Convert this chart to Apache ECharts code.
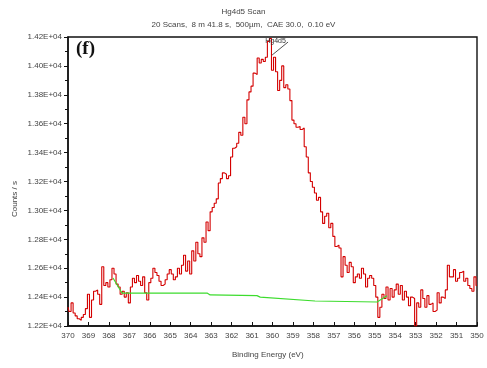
<!DOCTYPE html>
<html>
<head>
<meta charset="utf-8">
<script src="https://cdn.jsdelivr.net/npm/echarts@6/dist/echarts.min.js"></script>
<style>
  html, body { margin: 0; padding: 0; background: #fff; }
  #chart { width: 487px; height: 368px; }
</style>
</head>
<body>
<div id="chart"></div>
<script>
// Hg 4d5 region, binding energy from 370.0 eV down to 350.0 eV, 0.1 eV per channel
const energyStart = 370.0;
const energyStep = 0.1;
const counts = [
  12330, 12300, 12360, 12290, 12270, 12250, 12240, 12260, 12280, 12320,
  12420, 12260, 12380, 12440, 12450, 12420, 12350, 12610, 12480, 12500,
  12470, 12520, 12600, 12560, 12490, 12470, 12420, 12440, 12400, 12430,
  12360, 12470, 12530, 12500, 12550, 12510, 12480, 12540, 12430, 12380,
  12500, 12530, 12600, 12570, 12550, 12510, 12480, 12490, 12520, 12560,
  12590, 12560, 12520, 12540, 12600, 12560, 12620, 12690, 12580, 12650,
  12560, 12720, 12650, 12780, 12700, 12680, 12810, 12780, 12920, 12860,
  12990, 13020, 13050, 13080, 13190, 13220, 13260, 13250, 13220, 13240,
  13370, 13430, 13440, 13465, 13540, 13520, 13645, 13600, 13765, 13820,
  13860, 13950, 13940, 14055, 14020, 14045, 14030, 14060, 14170, 14190,
  13970, 14060, 13960, 13830, 13900, 14000, 13850, 13870, 13840, 13760,
  13625, 13600, 13575, 13580, 13560, 13570, 13440, 13370, 13260, 13200,
  13160, 13120, 13070, 13090, 12990, 12910, 12960, 12980, 12880, 12910,
  12820, 12750, 12760, 12740, 12540, 12680, 12620, 12570, 12640, 12610,
  12500, 12540, 12560, 12530, 12600, 12560, 12470, 12530, 12550, 12530,
  12480, 12400, 12260, 12330, 12420, 12390, 12470, 12380, 12460, 12400,
  12450, 12490, 12420, 12480, 12380, 12440, 12400, 12340, 12400, 12390,
  12200, 12360, 12330, 12450, 12390, 12330, 12410, 12350, 12360, 12300,
  12310, 12430, 12360, 12400, 12390, 12450, 12620, 12540, 12540, 12590,
  12510, 12530, 12570, 12580, 12510, 12530, 12480, 12460, 12440, 12540,
  12480
];

// Shirley-type background under the peak: [binding energy, counts/s]
const backgroundEnergy = [367.8, 367.36, 363.2, 363.05, 360.76, 360.6, 357.92, 354.89, 354.4];
const backgroundCounts = [12532, 12428, 12428, 12415, 12410, 12400, 12373, 12366, 12410];

// Peak label and its leader line
const peakName = 'Hg4d5';
const peakLabelAt = [359.85, 14172];
const leaderFrom = [360.02, 14075];
const leaderTo = [359.24, 14165];

const titleText = 'Hg4d5 Scan';
const subtitleText = '20 Scans,  8 m 41.8 s,  500µm,  CAE 30.0,  0.10 eV';
const xAxisName = 'Binding Energy (eV)';
const yAxisName = 'Counts / s';
const panelTag = '(f)';

const xRange = [350, 370];
const yRange = [12200, 14200];
const yTickStep = 200;

const spectrum = counts.map((c, i) => [+(energyStart - i * energyStep).toFixed(1), c]);
const background = backgroundEnergy.map((e, i) => [e, backgroundCounts[i]]);

const font = 'Liberation Sans, Arial, sans-serif';
const textGray = '#444';

const chart = echarts.init(document.getElementById('chart'));
chart.setOption({
  animation: false,
  backgroundColor: '#fff',
  title: [
    { text: titleText, left: 'center', top: 3,
      textStyle: { fontFamily: font, fontSize: 8, fontWeight: 'normal', color: textGray } },
    { text: subtitleText, left: 'center', top: 16,
      textStyle: { fontFamily: font, fontSize: 8, fontWeight: 'normal', color: textGray } }
  ],
  grid: { left: 68, right: 10, top: 37, bottom: 42, show: true,
          borderColor: '#111', borderWidth: 1.4, backgroundColor: '#fff' },
  xAxis: {
    type: 'value', min: xRange[0], max: xRange[1], interval: 1, inverse: true,
    axisLine: { show: true, lineStyle: { color: '#111', width: 1.5 } },
    axisTick: { show: true, inside: true, length: 4, lineStyle: { color: '#111' } },
    axisLabel: { fontFamily: font, fontSize: 8, color: textGray, margin: 6 },
    splitLine: { show: false }
  },
  yAxis: {
    type: 'value', min: yRange[0], max: yRange[1], interval: yTickStep,
    axisLine: { show: true, lineStyle: { color: '#111', width: 1.5 } },
    axisTick: { show: true, length: 4, lineStyle: { color: '#111' } },
    minorTick: { show: true, splitNumber: 2, length: 3, lineStyle: { color: '#111' } },
    axisLabel: { fontFamily: font, fontSize: 8, color: textGray, margin: 6,
                 formatter: v => (v / 1e4).toFixed(2) + 'E+04' },
    splitLine: { show: false }
  },
  series: [
    {
      type: 'line', data: spectrum, step: 'middle', symbol: 'none',
      lineStyle: { color: '#d40000', width: 1.1 }, z: 3,
      markLine: {
        silent: true, symbol: ['none', 'none'],
        label: { show: false },
        lineStyle: { color: '#222', width: 0.8, type: 'solid' },
        data: [[{ coord: leaderFrom }, { coord: leaderTo }]]
      },
      markPoint: {
        silent: true,
        data: [{ coord: peakLabelAt, symbol: 'circle', symbolSize: 0,
                 label: { show: true, formatter: peakName, position: 'inside',
                          fontFamily: font, fontSize: 7, color: '#333' } }]
      }
    },
    {
      type: 'line', data: background, symbol: 'none',
      lineStyle: { color: '#3ddc2e', width: 1.2 }, z: 4
    }
  ],
  graphic: [
    { type: 'text', left: 76, top: 40,
      style: { text: panelTag, font: 'bold 19px "Liberation Serif", "Times New Roman", serif', fill: '#111' } },
    { type: 'text', left: 232, top: 351,
      style: { text: xAxisName, font: '8px ' + font, fill: textGray } },
    { type: 'text', x: 11, y: 217, rotation: Math.PI / 2,
      style: { text: yAxisName, font: '8px ' + font, fill: textGray } }
  ]
});
</script>
</body>
</html>
